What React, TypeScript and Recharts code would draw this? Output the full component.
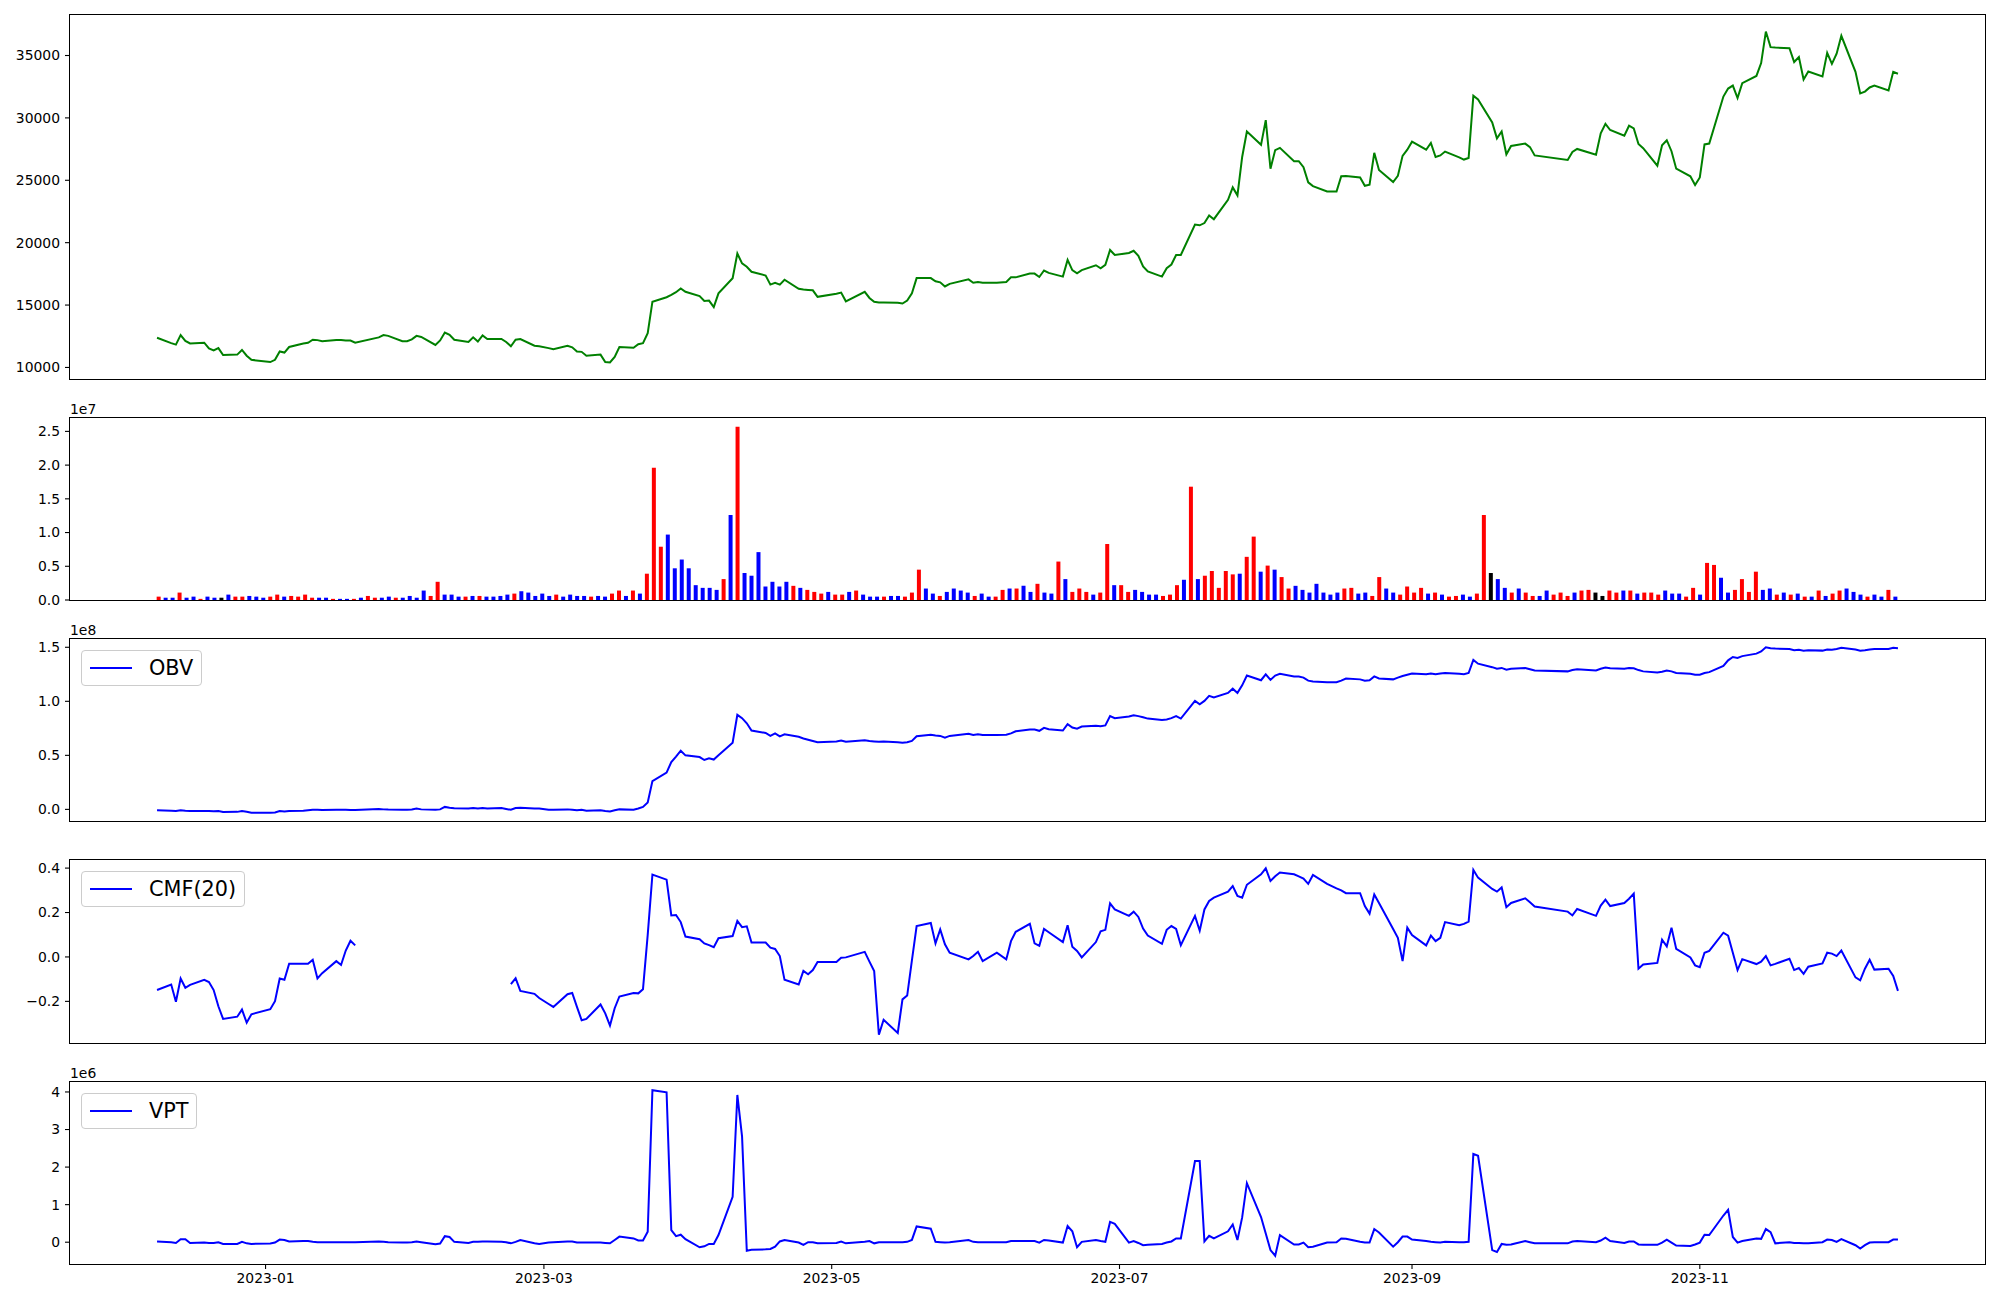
import React from "react";
import { ComposedChart, Line, Bar, Cell, XAxis, YAxis } from "recharts";

const FONT = "'DejaVu Sans', sans-serif";
const TICK_FS = 13.9;
const LEG_FS = 20.8;

function monthDays(ym: string, days: number[]) {
  return days.map((d) => `${ym}-${String(d).padStart(2, "0")}`);
}

// trading days
const dates: string[] = [
  ...monthDays("2022-12", [9, 12, 13, 14, 15, 16, 19, 20, 21, 22, 23, 26, 27, 28, 29]),
  ...monthDays("2023-01", [2, 3, 4, 5, 6, 9, 10, 11, 12, 13, 16, 17, 18, 19, 20, 25, 26, 27, 30, 31]),
  ...monthDays("2023-02", [1, 2, 3, 6, 7, 8, 9, 10, 13, 14, 15, 16, 17, 20, 21, 22, 23, 24, 27, 28]),
  ...monthDays("2023-03", [2, 3, 6, 7, 8, 9, 10, 13, 14, 15, 16, 17, 20, 21, 22, 23, 24, 27, 28, 29, 30, 31]),
  ...monthDays("2023-04", [3, 4, 5, 6, 7, 10, 11, 12, 13, 14, 17, 18, 19, 20, 21, 24, 25, 26, 27, 28]),
  ...monthDays("2023-05", [2, 3, 4, 8, 9, 10, 11, 12, 15, 16, 17, 18, 19, 22, 23, 24, 25, 26, 30, 31]),
  ...monthDays("2023-06", [1, 2, 5, 7, 8, 9, 12, 13, 14, 15, 16, 19, 20, 21, 22, 23, 26, 27, 28, 29, 30]),
  ...monthDays("2023-07", [3, 4, 5, 6, 7, 10, 11, 12, 13, 14, 17, 18, 19, 20, 21, 24, 25, 26, 27, 28, 31]),
  ...monthDays("2023-08", [1, 2, 3, 4, 7, 8, 9, 10, 11, 14, 16, 17, 18, 21, 22, 23, 24, 25, 28, 29, 30, 31]),
  ...monthDays("2023-09", [1, 4, 5, 6, 7, 8, 11, 12, 13, 14, 15, 18, 19, 20, 21, 22, 25, 26, 27]),
  ...monthDays("2023-10", [4, 5, 6, 10, 11, 12, 13, 16, 17, 18, 19, 20, 23, 24, 25, 26, 27, 30, 31]),
  ...monthDays("2023-11", [1, 2, 3, 6, 7, 8, 9, 10, 13, 14, 15, 16, 17, 20, 21, 22, 23, 24, 27, 28, 29, 30]),
  ...monthDays("2023-12", [1, 4, 5, 6, 7, 8, 11, 12, 13]),
];

const closePrice = [
  12380, 11950, 11830, 12590, 12130, 11920, 11980, 11520, 11370, 11550, 11000, 11030, 11400, 10940, 10610,
  10430, 10610, 11280, 11190, 11640, 11920, 11980, 12220, 12190, 12100, 12190, 12190, 12160, 12160, 11980, 12410, 12590, 12530, 12100, 12100,
  12250, 12530, 12440, 11800, 12160, 12800, 12620, 12220, 12040, 12410, 12070, 12560, 12280, 12280, 12040, 11700, 12220, 12280, 11740, 11700,
  11550, 11460, 11740, 11610, 11280, 11250, 10940, 11030, 10430, 10400, 10850, 11640, 11580, 11860, 11950, 12740, 15270, 15630, 15820, 16030, 16330, 16060,
  15720, 15330, 15360, 14840, 15940, 17150, 19130, 18340, 18070, 17670, 17370, 16640, 16790, 16640, 17030, 16300, 16240, 16210, 16180, 15660,
  15910, 16000, 15300, 16060, 15570, 15270, 15210, 15210, 15180, 15120, 15360, 15940, 17160, 17160, 16910, 16820, 16490, 16700, 17060, 16790,
  16850, 16790, 16790, 16850, 17220, 17220, 17520, 17520, 17250, 17770, 17580, 17280, 18620, 17800, 17550, 17800, 18190, 17950, 18220, 19410, 19010,
  19170, 19350, 18950, 18100, 17700, 17280, 17950, 18250, 19010, 19010, 21450, 21390, 21570, 22180, 21880, 23430, 24430, 23790, 26870, 28910, 27840,
  29820, 25930, 27420, 27600, 26530, 26530, 26050, 24830, 24530, 24100, 24100, 25320, 25350, 25230, 24560, 24650, 27200, 25830, 24860, 25350, 26960, 27450,
  28090, 27450, 28000, 26870, 26990, 27300, 26840, 26660, 26780, 31770, 31470, 29640, 28360, 28910, 27080, 27750, 27940, 27660, 26990,
  26630, 27270, 27510, 27050, 28760, 29520, 29030, 28580, 29370, 29150, 27910, 27570, 26170, 27810, 28210, 27330, 25930, 25320, 24620,
  25230, 27870, 27940, 31710, 32350, 32590, 31590, 32780, 33360, 34390, 36920, 35670, 35640, 35580, 34480, 34880, 33080, 33720, 33330, 35210, 34330, 35150,
  36580, 33690, 31960, 32110, 32440, 32590, 32200, 33690, 33540,
];

// volume in millions of shares
const volumeM = [
  0.5, 0.34, 0.34, 1.1, 0.34, 0.5, 0.17, 0.5, 0.34, 0.34, 0.8, 0.5, 0.5, 0.6, 0.5,
  0.34, 0.5, 0.8, 0.5, 0.6, 0.5, 0.8, 0.34, 0.34, 0.34, 0.17, 0.17, 0.17, 0.17, 0.34, 0.6, 0.34, 0.34, 0.5, 0.34,
  0.34, 0.6, 0.34, 1.4, 0.6, 2.7, 0.8, 0.8, 0.5, 0.5, 0.6, 0.6, 0.5, 0.5, 0.6, 0.8, 0.95, 1.3, 1.1, 0.6,
  0.95, 0.6, 0.8, 0.5, 0.8, 0.6, 0.6, 0.5, 0.6, 0.5, 0.95, 1.4, 0.6, 1.4, 0.95, 3.9, 19.6, 7.9, 9.7, 4.7, 6.0, 4.7,
  2.2, 1.8, 1.8, 1.5, 3.1, 12.6, 25.7, 4.0, 3.6, 7.1, 2.0, 2.7, 2.0, 2.7, 2.1, 1.8, 1.5, 1.2, 0.95, 1.2,
  0.8, 0.8, 1.2, 1.4, 0.8, 0.5, 0.5, 0.5, 0.6, 0.6, 0.5, 1.1, 4.5, 1.7, 0.95, 0.6, 1.2, 1.7, 1.4, 1.1,
  0.6, 0.95, 0.5, 0.5, 1.5, 1.7, 1.7, 2.1, 1.2, 2.4, 1.1, 0.95, 5.7, 3.1, 1.2, 1.7, 1.2, 0.8, 1.1, 8.3, 2.2,
  2.2, 1.2, 1.5, 1.2, 0.8, 0.8, 0.6, 0.8, 2.2, 3.0, 16.8, 3.1, 3.6, 4.3, 1.8, 4.3, 3.8, 3.9, 6.4, 9.4, 4.2,
  5.1, 4.5, 3.4, 1.7, 2.1, 1.5, 1.1, 2.4, 1.1, 0.8, 1.1, 1.7, 1.8, 0.95, 1.1, 0.6, 3.4, 1.7, 1.1, 0.8, 2.0, 1.1,
  1.8, 0.95, 1.1, 0.8, 0.5, 0.6, 0.8, 0.5, 0.95, 12.6, 4.0, 3.1, 1.8, 1.1, 1.7, 1.1, 0.6, 0.6, 1.4,
  0.8, 1.1, 0.6, 1.1, 1.4, 1.5, 1.1, 0.6, 1.4, 1.1, 1.4, 1.4, 0.95, 1.1, 1.1, 0.8, 1.4, 0.95, 0.95,
  0.5, 1.8, 0.8, 5.5, 5.2, 3.3, 1.1, 1.5, 3.1, 1.2, 4.2, 1.5, 1.7, 0.8, 1.1, 0.8, 0.95, 0.5, 0.5, 1.4, 0.6, 0.95,
  1.4, 1.7, 1.2, 0.8, 0.5, 0.8, 0.5, 1.5, 0.5,
];

// candle direction per day: u = up, d = down, n = unchanged
const candleDir = [
  "uddud duddn duudd",
  "duudu uuudd uddud uuddu",
  "ddddu udddu duddd duddd",
  "ddudd ddudd uudud uuudd dd",
  "ddddu duddd ddddu duuud",
  "uudud ddudd uuudd udddd",
  "udduu duddu ddudu uuduu d",
  "uuddd duuud uduuu uuduu d",
  "uduud ddddd duudd uuddu uu",
  "ududu udduu nddud uudd",
  "uuudu unnuu duduu uddd",
  "uuduu dduuu uddud ududu du",
  "udddu ddud",
].join("").replace(/\s/g, "").split("");

// OBV in units of 1e8
const obvE8 = [
  -0.008, -0.012, -0.015, -0.008, -0.012, -0.014, -0.014, -0.016, -0.018, -0.016, -0.025, -0.023, -0.016, -0.022, -0.031,
  -0.031, -0.028, -0.016, -0.02, -0.016, -0.012, -0.008, -0.004, -0.004, -0.006, -0.004, -0.004, -0.004, -0.006, -0.006, 0.004, 0.0, -0.002, -0.004, -0.004,
  -0.002, 0.008, 0.0, -0.004, 0.0, 0.023, 0.016, 0.01, 0.008, 0.012, 0.008, 0.012, 0.008, 0.012, 0.004, -0.004, 0.012, 0.016, 0.008, 0.008,
  -0.004, -0.004, 0.0, -0.004, -0.008, -0.004, -0.012, -0.008, -0.016, -0.02, -0.008, 0.0, -0.004, 0.008, 0.023, 0.063, 0.262, 0.34, 0.438, 0.488, 0.543, 0.5,
  0.484, 0.457, 0.473, 0.461, 0.5, 0.617, 0.875, 0.844, 0.797, 0.73, 0.707, 0.68, 0.703, 0.676, 0.695, 0.672, 0.656, 0.645, 0.633, 0.621,
  0.629, 0.637, 0.625, 0.64, 0.633, 0.629, 0.625, 0.629, 0.621, 0.617, 0.621, 0.633, 0.676, 0.691, 0.684, 0.68, 0.664, 0.68, 0.7, 0.688,
  0.695, 0.688, 0.688, 0.691, 0.703, 0.723, 0.738, 0.738, 0.727, 0.754, 0.742, 0.73, 0.789, 0.758, 0.746, 0.766, 0.773, 0.77, 0.777, 0.863, 0.844,
  0.859, 0.871, 0.863, 0.852, 0.84, 0.828, 0.832, 0.844, 0.863, 0.84, 1.004, 0.973, 1.004, 1.051, 1.035, 1.078, 1.117, 1.078, 1.148, 1.238, 1.195,
  1.25, 1.199, 1.238, 1.254, 1.23, 1.23, 1.219, 1.191, 1.184, 1.176, 1.176, 1.191, 1.211, 1.203, 1.191, 1.195, 1.23, 1.211, 1.203, 1.219, 1.234, 1.246,
  1.258, 1.25, 1.258, 1.25, 1.258, 1.262, 1.254, 1.25, 1.262, 1.383, 1.348, 1.316, 1.301, 1.309, 1.293, 1.301, 1.309, 1.297, 1.285,
  1.277, 1.289, 1.297, 1.285, 1.301, 1.313, 1.305, 1.301, 1.309, 1.305, 1.289, 1.277, 1.266, 1.273, 1.285, 1.277, 1.262, 1.254, 1.246,
  1.246, 1.262, 1.27, 1.328, 1.379, 1.41, 1.402, 1.418, 1.441, 1.461, 1.5, 1.492, 1.488, 1.484, 1.473, 1.477, 1.469, 1.473, 1.469, 1.48, 1.477, 1.484,
  1.496, 1.48, 1.469, 1.473, 1.48, 1.484, 1.484, 1.496, 1.492,
];

const cmf20: (number | null)[] = [
  -0.149, -0.124, -0.202, -0.097, -0.139, -0.126, -0.103, -0.113, -0.149, -0.222, -0.279, -0.269, -0.237, -0.296, -0.258,
  -0.235, -0.199, -0.097, -0.103, -0.031, -0.031, -0.031, -0.013, -0.097, -0.073, -0.019, -0.036, 0.029, 0.073, 0.052, null, null, null, null, null,
  null, null, null, null, null, null, null, null, null, null, null, null, null, null, null, -0.122, -0.096, -0.153, -0.166, -0.185,
  -0.212, -0.225, -0.168, -0.162, -0.225, -0.285, -0.279, -0.214, -0.254, -0.309, -0.231, -0.178, -0.162, -0.164, -0.145, 0.099, 0.371, 0.348, 0.187, 0.189, 0.157, 0.092,
  0.08, 0.061, 0.053, 0.044, 0.084, 0.094, 0.162, 0.134, 0.138, 0.065, 0.065, 0.042, 0.036, 0.004, -0.103, -0.124, -0.063, -0.078, -0.059, -0.023,
  -0.023, -0.004, -0.002, 0.023, -0.021, -0.063, -0.35, -0.283, -0.342, -0.191, -0.174, -0.015, 0.139, 0.153, 0.061, 0.124, 0.057, 0.019, -0.011, 0.004,
  0.023, -0.019, 0.019, -0.011, 0.071, 0.113, 0.149, 0.061, 0.05, 0.126, 0.111, 0.067, 0.143, 0.046, 0.027, -0.002, 0.067, 0.115, 0.122, 0.241, 0.214,
  0.185, 0.204, 0.18, 0.128, 0.096, 0.059, 0.122, 0.139, 0.126, 0.053, 0.185, 0.118, 0.214, 0.252, 0.267, 0.294, 0.319, 0.275, 0.267, 0.325, 0.372,
  0.399, 0.342, 0.363, 0.38, 0.372, 0.363, 0.353, 0.329, 0.369, 0.329, 0.309, 0.3, 0.287, 0.287, 0.229, 0.195, 0.281, 0.243, 0.126, 0.086, -0.019, 0.132,
  0.099, 0.052, 0.096, 0.071, 0.086, 0.157, 0.143, 0.149, 0.159, 0.392, 0.357, 0.306, 0.294, 0.313, 0.224, 0.243, 0.264, 0.246, 0.227,
  0.204, 0.187, 0.216, 0.185, 0.231, 0.258, 0.229, 0.243, 0.262, 0.285, -0.053, -0.034, -0.027, 0.078, 0.048, 0.132, 0.036, -0.002, -0.038,
  -0.046, 0.019, 0.027, 0.109, 0.096, 0.019, -0.059, -0.01, -0.032, -0.021, 0.004, -0.038, -0.031, -0.008, -0.059, -0.05, -0.076, -0.044, -0.029, 0.019, 0.015, 0.004,
  0.029, -0.092, -0.105, -0.053, -0.013, -0.057, -0.053, -0.086, -0.153,
];

// VPT in units of 1e6
const vptE6 = [
  0.02, 0.0, -0.02, 0.08, 0.08, -0.02, -0.01, -0.02, -0.02, 0.0, -0.045, -0.045, 0.01, -0.03, -0.045,
  -0.035, -0.01, 0.07, 0.06, 0.02, 0.03, 0.03, 0.01, 0.0, 0.0, 0.0, 0.0, 0.0, 0.0, 0.0, 0.02, 0.01, 0.0, -0.01, -0.01,
  0.0, 0.02, 0.0, -0.055, -0.035, 0.16, 0.14, 0.01, -0.02, 0.01, 0.01, 0.02, 0.02, 0.01, 0.0, -0.03, 0.01, 0.06, -0.03, -0.045,
  -0.01, 0.0, 0.02, 0.02, -0.01, -0.01, -0.01, -0.01, -0.02, -0.03, 0.06, 0.15, 0.1, 0.045, 0.045, 0.28, 4.045, 3.99, 0.32, 0.16, 0.2, 0.08,
  -0.135, -0.11, -0.045, -0.045, 0.19, 1.21, 3.92, 2.81, -0.226, -0.2, -0.19, -0.18, -0.12, 0.02, 0.06, -0.01, -0.07, 0.0, 0.0, -0.03,
  -0.02, 0.02, -0.03, 0.01, 0.03, -0.03, 0.0, 0.0, 0.0, 0.0, 0.01, 0.06, 0.42, 0.36, 0.01, 0.0, -0.01, 0.0, 0.06, 0.01,
  0.0, 0.0, 0.0, 0.0, 0.03, 0.03, 0.03, 0.03, -0.01, 0.06, 0.045, -0.01, 0.43, 0.29, -0.135, 0.01, 0.06, 0.03, 0.01, 0.54, 0.49,
  -0.01, 0.03, -0.02, -0.08, -0.07, -0.045, -0.01, 0.02, 0.1, 0.1, 2.16, 2.16, 0.02, 0.17, 0.1, 0.29, 0.47, 0.06, 0.66, 1.57, 0.67,
  0.23, -0.21, -0.36, 0.19, -0.06, -0.06, -0.01, -0.135, -0.12, -0.01, 0.0, 0.1, 0.09, 0.01, -0.01, -0.01, 0.35, 0.26, -0.12, 0.0, 0.15, 0.15,
  0.07, 0.03, 0.01, 0.0, -0.01, 0.01, 0.0, 0.0, 0.01, 2.35, 2.3, -0.21, -0.26, -0.045, -0.07, -0.06, 0.03, 0.0, -0.03,
  -0.03, 0.02, 0.03, 0.0, 0.045, 0.12, 0.03, -0.02, 0.02, 0.02, -0.06, -0.07, -0.07, -0.01, 0.07, -0.01, -0.09, -0.1, -0.06,
  -0.01, 0.2, 0.19, 0.71, 0.86, 0.14, -0.01, 0.03, 0.1, 0.09, 0.35, 0.27, -0.03, 0.0, -0.02, -0.02, -0.03, -0.03, 0.0, 0.07, 0.06, 0.01,
  0.08, -0.08, -0.17, -0.08, -0.01, 0.0, 0.0, 0.07, 0.07,
];

const xTickMonths = ["2023-01", "2023-03", "2023-05", "2023-07", "2023-09", "2023-11"];
const priceTicks = [10000, 15000, 20000, 25000, 30000, 35000];
const volTicks = [0, 5e6, 1e7, 1.5e7, 2e7, 2.5e7];
const obvTicks = [0, 5e7, 1e8, 1.5e8];
const cmfTicks = [-0.2, 0, 0.2, 0.4];
const vptTicks = [0, 1e6, 2e6, 3e6, 4e6];

const DAY_MS = 86400000;
const BASE = Date.UTC(2023, 0, 1);
const toDay = (s: string) => {
  const [y, m, d] = s.split("-").map(Number);
  return (Date.UTC(y, m - 1, d || 1) - BASE) / DAY_MS;
};

const rows = dates.map((d, i) => ({
  t: toDay(d),
  i,
  price: closePrice[i],
  vol: volumeM[i] * 1e6,
  obv: obvE8[i] * 1e8,
  cmf: cmf20[i],
  vpt: vptE6[i] * 1e6,
}));

function padded(vals: (number | null)[]): [number, number] {
  const v = vals.filter((x): x is number => x != null);
  const lo = Math.min(...v);
  const hi = Math.max(...v);
  const m = (hi - lo) * 0.05;
  return [lo - m, hi + m];
}

const xDomain = padded(rows.map((r) => r.t));
const barW = 0.6;
const idxDomain = padded([-barW / 2, rows.length - 1 + barW / 2]);
const priceDomain = padded(rows.map((r) => r.price));
const volDomain: [number, number] = [0, Math.max(...rows.map((r) => r.vol)) * 1.05];
const obvDomain = padded(rows.map((r) => r.obv));
const cmfDomain = padded(rows.map((r) => r.cmf));
const vptDomain = padded(rows.map((r) => r.vpt));

const DIR_COLOR: Record<string, string> = { u: "#ff0000", d: "#0000ff", n: "#000000" };

const PLOT_L = 70;
const PLOT_R = 1985;
const PAD = 10;
const P = {
  price: { top: 15, h: 364 },
  vol: { top: 418, h: 182 },
  obv: { top: 639, h: 182 },
  cmf: { top: 860, h: 183 },
  vpt: { top: 1082, h: 182 },
};

const tickStyle = { fill: "#000", fontSize: TICK_FS, fontFamily: FONT };

function yAxis(domain: [number, number], ticks: number[], fmt: (v: number) => string) {
  return (
    <YAxis
      type="number"
      domain={domain}
      ticks={ticks}
      tickFormatter={fmt}
      allowDataOverflow
      width={PLOT_L}
      axisLine={false}
      tickLine={{ stroke: "#000", strokeWidth: 1.1 }}
      tickSize={5}
      tickMargin={5}
      tick={tickStyle}
      interval={0}
    />
  );
}

const minus = (s: string) => s.replace("-", "\u2212");

function Frame({ top, h }: { top: number; h: number }) {
  return (
    <div
      style={{
        position: "absolute",
        left: PLOT_L - 1,
        top: top - 1,
        width: PLOT_R - PLOT_L + 2,
        height: h + 2,
        border: "1px solid #000",
        boxSizing: "border-box",
        pointerEvents: "none",
      }}
    />
  );
}

function OffsetText({ top, text }: { top: number; text: string }) {
  return (
    <div
      style={{
        position: "absolute",
        left: PLOT_L,
        top: top - 17,
        fontFamily: FONT,
        fontSize: TICK_FS,
        lineHeight: "16px",
        color: "#000",
      }}
    >
      {text}
    </div>
  );
}

function LegendBox({ top, label }: { top: number; label: string }) {
  return (
    <div
      style={{
        position: "absolute",
        left: 81,
        top: top + 11,
        height: 36,
        boxSizing: "border-box",
        border: "1px solid #cccccc",
        borderRadius: 4,
        background: "rgba(255,255,255,0.8)",
        display: "flex",
        alignItems: "center",
        padding: "0 8px",
        fontFamily: FONT,
        fontSize: LEG_FS,
        color: "#000",
      }}
    >
      <span style={{ display: "inline-block", width: 42, height: 2, background: "#0000ff", marginRight: 17 }} />
      <span style={{ lineHeight: "24px" }}>{label}</span>
    </div>
  );
}

function LinePanel({
  top,
  h,
  dataKey,
  color,
  domain,
  ticks,
  fmt,
  showX,
}: {
  top: number;
  h: number;
  dataKey: string;
  color: string;
  domain: [number, number];
  ticks: number[];
  fmt: (v: number) => string;
  showX?: boolean;
}) {
  const xH = showX ? 30 : 0;
  return (
    <div style={{ position: "absolute", left: 0, top: top - PAD }}>
      <ComposedChart
        width={2000}
        height={h + PAD + (showX ? xH : PAD)}
        data={rows}
        margin={{ top: PAD, right: 2000 - PLOT_R, bottom: showX ? 0 : PAD, left: 0 }}
      >
        <XAxis
          dataKey="t"
          type="number"
          domain={xDomain}
          allowDataOverflow
          hide={!showX}
          ticks={xTickMonths.map(toDay)}
          tickFormatter={(v: number) => xTickMonths[xTickMonths.map(toDay).indexOf(v)] ?? ""}
          height={xH}
          axisLine={false}
          tickLine={{ stroke: "#000", strokeWidth: 1.1 }}
          tickSize={5}
          tickMargin={4}
          tick={tickStyle}
          interval={0}
        />
        {yAxis(domain, ticks, fmt)}
        <Line
          type="linear"
          dataKey={dataKey}
          stroke={color}
          strokeWidth={2}
          dot={false}
          activeDot={false}
          isAnimationActive={false}
          connectNulls={false}
        />
      </ComposedChart>
    </div>
  );
}

function VolumePanel() {
  const { top, h } = P.vol;
  return (
    <div style={{ position: "absolute", left: 0, top: top - PAD }}>
      <ComposedChart
        width={2000}
        height={h + 2 * PAD}
        data={rows}
        margin={{ top: PAD, right: 2000 - PLOT_R, bottom: PAD, left: 0 }}
      >
        <XAxis dataKey="i" type="number" domain={idxDomain} allowDataOverflow hide />
        {yAxis(volDomain, volTicks, (v) => (v / 1e7).toFixed(1))}
        <Bar dataKey="vol" barSize={4} isAnimationActive={false}>
          {rows.map((_, k) => (
            <Cell key={`v-${k}`} fill={DIR_COLOR[candleDir[k]] || "#000"} />
          ))}
        </Bar>
      </ComposedChart>
    </div>
  );
}

export default function App() {
  return (
    <div
      style={{
        position: "absolute",
        left: 0,
        top: 0,
        width: 2000,
        height: 1300,
        background: "#fff",
        overflow: "hidden",
      }}
    >
      <LinePanel
        top={P.price.top}
        h={P.price.h}
        dataKey="price"
        color="#008000"
        domain={priceDomain}
        ticks={priceTicks}
        fmt={(v) => String(v)}
      />
      <VolumePanel />
      <LinePanel
        top={P.obv.top}
        h={P.obv.h}
        dataKey="obv"
        color="#0000ff"
        domain={obvDomain}
        ticks={obvTicks}
        fmt={(v) => minus((v / 1e8).toFixed(1))}
      />
      <LinePanel
        top={P.cmf.top}
        h={P.cmf.h}
        dataKey="cmf"
        color="#0000ff"
        domain={cmfDomain}
        ticks={cmfTicks}
        fmt={(v) => minus(v.toFixed(1))}
      />
      <LinePanel
        top={P.vpt.top}
        h={P.vpt.h}
        dataKey="vpt"
        color="#0000ff"
        domain={vptDomain}
        ticks={vptTicks}
        fmt={(v) => String(Math.round(v / 1e6))}
        showX
      />

      {Object.values(P).map((p, k) => (
        <Frame key={`f-${k}`} top={p.top} h={p.h} />
      ))}
      <OffsetText top={P.vol.top} text="1e7" />
      <OffsetText top={P.obv.top} text="1e8" />
      <OffsetText top={P.vpt.top} text="1e6" />
      <LegendBox top={P.obv.top} label="OBV" />
      <LegendBox top={P.cmf.top} label="CMF(20)" />
      <LegendBox top={P.vpt.top} label="VPT" />
    </div>
  );
}
